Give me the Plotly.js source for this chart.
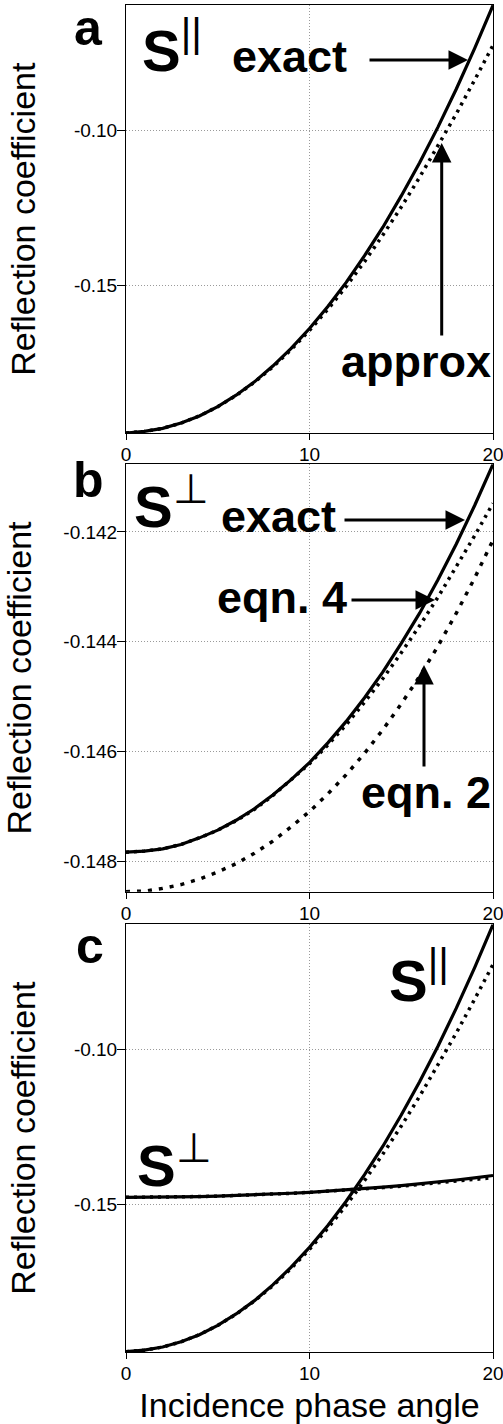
<!DOCTYPE html>
<html>
<head>
<meta charset="utf-8">
<script src="https://cdn.plot.ly/plotly-3.0.1.min.js"></script>
<style>html,body{margin:0;padding:0;background:#fff;}#chart{width:503px;height:1424px;}</style>
</head>
<body>
<div id="chart"></div>
<script>
// ---- data ----
const angle = [0,1,2,3,4,5,6,7,8,9,10,11,12,13,14,15,16,17,18,19,20];
// S-parallel: exact and approximate reflection coefficient
const sParExact  = [-0.1977,-0.1972,-0.1962,-0.1945,-0.1922,-0.1892,-0.1855,-0.1812,-0.1761,-0.1704,-0.1640,-0.1569,-0.1491,-0.1405,-0.1313,-0.1212,-0.1105,-0.0990,-0.0867,-0.0736,-0.0597];
const sParApprox = [-0.1977,-0.1972,-0.1962,-0.1945,-0.1922,-0.1892,-0.1856,-0.1813,-0.1764,-0.1708,-0.1646,-0.1578,-0.1504,-0.1424,-0.1338,-0.1248,-0.1152,-0.1052,-0.0947,-0.0838,-0.0726];
// S-perpendicular: exact, eqn. 4 and eqn. 2
const sPerpExact = [-0.14783,-0.14781,-0.14777,-0.14769,-0.14757,-0.14743,-0.14725,-0.14704,-0.14679,-0.14651,-0.14620,-0.14584,-0.14545,-0.14502,-0.14455,-0.14403,-0.14348,-0.14287,-0.14222,-0.14152,-0.14077];
const sPerpEqn4  = [-0.14783,-0.14781,-0.14777,-0.14769,-0.14757,-0.14743,-0.14726,-0.14705,-0.14680,-0.14652,-0.14622,-0.14588,-0.14551,-0.14510,-0.14467,-0.14420,-0.14371,-0.14319,-0.14264,-0.14207,-0.14148];
const sPerpEqn2  = [-0.14855,-0.14854,-0.14849,-0.14842,-0.14832,-0.14819,-0.14804,-0.14785,-0.14763,-0.14737,-0.14709,-0.14677,-0.14642,-0.14603,-0.14560,-0.14513,-0.14463,-0.14408,-0.14348,-0.14284,-0.14215];
// axis ticks
const xTicks = [0, 10, 20];
const yTicksAC = [-0.15, -0.10];
const yTickTextAC = ['-0.15', '-0.10'];
const yTicksB = [-0.148, -0.146, -0.144, -0.142];
const yTickTextB = ['-0.148', '-0.146', '-0.144', '-0.142'];

// ---- layout geometry ----
const W = 503, H = 1424, L = 126, R = 10, T = 5, B = 72;
const PW = W - L - R, PH = H - T - B;
const px = x => (x - L) / PW;
const py = y => (H - B - y) / PH;

const solid = {color: 'black', width: 3.2};
const dotA = {color: 'black', width: 3.5, dash: '3px,5px'};
const dotB = {color: 'black', width: 3.5, dash: '4px,7px'};

const traces = [
  {x: angle, y: sParExact,  xaxis: 'x',  yaxis: 'y',  mode: 'lines', line: solid, name: 'exact'},
  {x: angle, y: sParApprox, xaxis: 'x',  yaxis: 'y',  mode: 'lines', line: dotA, name: 'approx'},
  {x: angle, y: sPerpExact, xaxis: 'x2', yaxis: 'y2', mode: 'lines', line: solid, name: 'exact'},
  {x: angle, y: sPerpEqn4,  xaxis: 'x2', yaxis: 'y2', mode: 'lines', line: dotA, name: 'eqn. 4'},
  {x: angle, y: sPerpEqn2,  xaxis: 'x2', yaxis: 'y2', mode: 'lines', line: dotB, name: 'eqn. 2'},
  {x: angle, y: sParApprox, xaxis: 'x3', yaxis: 'y3', mode: 'lines', line: dotA, name: 'S∥ approx'},
  {x: angle, y: sParExact,  xaxis: 'x3', yaxis: 'y3', mode: 'lines', line: solid, name: 'S∥ exact'},
  {x: angle, y: sPerpEqn4,  xaxis: 'x3', yaxis: 'y3', mode: 'lines', line: dotA, name: 'S⊥ approx'},
  {x: angle, y: sPerpExact, xaxis: 'x3', yaxis: 'y3', mode: 'lines', line: solid, name: 'S⊥ exact'}
];

const FONT = 'Liberation Sans, Arial, sans-serif';
const tickFont = {family: FONT, size: 19, color: 'black'};
const GRID = '#9a9a9a';

function xAxis(anchor, withTitle) {
  const a = {
    anchor: anchor, range: [0, 20], tickvals: xTicks, ticks: 'outside', ticklen: 6,
    tickcolor: 'black', showline: true, linecolor: 'black', linewidth: 1, mirror: true,
    showgrid: true, gridcolor: GRID, griddash: '1px,2px', gridwidth: 1, zeroline: false,
    tickfont: tickFont, ticklabeloverflow: 'allow', ticklabelstandoff: -2
  };
  if (withTitle) a.title = {text: 'Incidence phase angle', font: {family: FONT, size: 34, color: 'black'}, standoff: 11};
  return a;
}
function yAxis(anchor, domain, range, tv, tt) {
  return {
    anchor: anchor, domain: domain, range: range, tickvals: tv, ticktext: tt,
    ticks: 'outside', ticklen: 8, tickcolor: 'black', showline: true, linecolor: 'black',
    linewidth: 1, mirror: true, showgrid: true, gridcolor: GRID, griddash: '1px,2px',
    gridwidth: 1, zeroline: false, tickfont: tickFont, ticklabelstandoff: -4,
    title: {text: 'Reflection coefficient', font: {family: FONT, size: 34, color: 'black'}, standoff: 27}
  };
}

function txt(text, xl, base, size) {
  return {xref: 'paper', yref: 'paper', x: px(xl), y: py(base - 0.35 * size),
    xanchor: 'left', yanchor: 'middle', showarrow: false, text: text,
    font: {family: FONT, size: size, color: 'black'}};
}
function arr(tipX, tipY, tailX, tailY) {
  return {xref: 'paper', yref: 'paper', x: px(tipX), y: py(tipY), ax: tailX - tipX, ay: tailY - tipY,
    text: '', showarrow: true, arrowhead: 2, arrowsize: 1.3, arrowwidth: 3, arrowcolor: 'black'};
}

const annotations = [
  // panel a
  txt('<b>a</b>', 72, 46, 50),
  txt('<b>S</b><sup>||</sup>', 140, 67, 58),
  txt('<b>exact</b>', 230, 72, 45),
  arr(468, 60, 368, 60),
  txt('<b>approx</b>', 339, 377, 45),
  arr(441.7, 143, 441.7, 337),
  // panel b
  txt('<b>b</b>', 71, 498, 50),
  txt('<b>S</b><sup>⊥</sup>', 132, 523, 58),
  txt('<b>exact</b>', 219, 532, 45),
  arr(465, 520, 343, 520),
  txt('<b>eqn. 4</b>', 215, 613, 45),
  arr(435, 600, 350, 600),
  txt('<b>eqn. 2</b>', 359, 808, 45),
  arr(424, 665, 424, 768),
  // panel c
  txt('<b>c</b>', 74, 963, 50),
  txt('<b>S</b><sup>||</sup>', 387, 997, 58),
  txt('<b>S</b><sup>⊥</sup>', 135, 1182, 58)
];

const layout = {
  width: W, height: H, margin: {l: L, r: R, t: T, b: B},
  paper_bgcolor: 'white', plot_bgcolor: 'white', showlegend: false,
  font: {family: FONT, color: 'black'},
  xaxis: xAxis('y', false),
  yaxis: yAxis('x', [py(433.3), 1], [-0.1978, -0.0596], yTicksAC, yTickTextAC),
  xaxis2: xAxis('y2', false),
  yaxis2: yAxis('x2', [py(891.7), py(464.3)], [-0.14855, -0.14077], yTicksB, yTickTextB),
  xaxis3: xAxis('y3', true),
  yaxis3: yAxis('x3', [0, py(924.3)], [-0.1978, -0.0596], yTicksAC, yTickTextAC),
  annotations: annotations
};

Plotly.newPlot('chart', traces, layout, {staticPlot: true});
</script>
</body>
</html>
